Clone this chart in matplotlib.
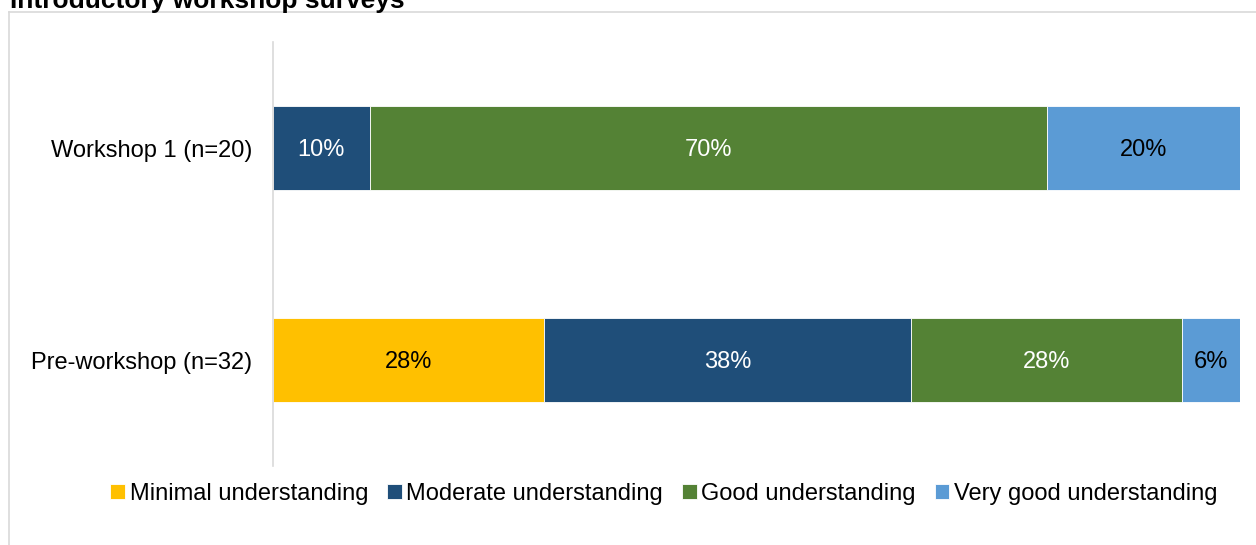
import numpy as np
import matplotlib.pyplot as plt
from matplotlib.lines import Line2D

plt.rcParams['font.family'] = ['Liberation Sans', 'DejaVu Sans']

groups = ["Pre-workshop (n=32)", "Workshop 1 (n=20)"]
levels = ["Minimal understanding", "Moderate understanding",
          "Good understanding", "Very good understanding"]
# share of respondents per level, one list per level (pre-workshop, workshop 1)
minimal = [28, 0]
moderate = [38, 10]
good = [28, 70]
very_good = [6, 20]

colors = ["#FFC000", "#1F4E79", "#548235", "#5B9BD5"]
text_colors = ["black", "white", "white", "black"]

W, H = 1256, 545
fig = plt.figure(figsize=(W / 100, H / 100), dpi=100)
ax = fig.add_axes([273 / W, 1 - 466 / H, (1240 - 273) / W, (466 - 42) / H])

y = np.arange(len(groups))
left = np.zeros(len(groups))
for vals, lab, col, tc in zip([minimal, moderate, good, very_good], levels, colors, text_colors):
    vals = np.array(vals, dtype=float)
    bars = ax.barh(y, vals, left=left, height=0.4, color=col, label=lab,
                   edgecolor="white", linewidth=0.6)
    for b, v in zip(bars, vals):
        if v > 0:
            ax.text(b.get_x() + b.get_width() / 2, b.get_y() + b.get_height() / 2,
                    f"{v:.0f}%", ha="center", va="center_baseline", color=tc, fontsize=17)
    left += vals

ax.set_xlim(0, 100)
ax.set_ylim(-0.5, 1.5)
ax.set_yticks(y)
ax.set_yticklabels(groups, fontsize=17)
ax.tick_params(axis="y", length=0, pad=15)
ax.set_xticks([])
for s in ["top", "right", "bottom"]:
    ax.spines[s].set_visible(False)
ax.spines["left"].set_color("#D9D9D9")
ax.spines["left"].set_linewidth(1.2)

fig.legend(loc="center", bbox_to_anchor=(664 / W, 1 - 494 / H), ncol=4, frameon=False,
           fontsize=17, handlelength=0.62, handleheight=0.62, handletextpad=0.2,
           columnspacing=0.8)

# chart frame (top and left edges)
fig.add_artist(Line2D([9 / W, 1], [1 - 12 / H, 1 - 12 / H], color="#D9D9D9", lw=1.2))
fig.add_artist(Line2D([9 / W, 9 / W], [0, 1 - 12 / H], color="#D9D9D9", lw=1.2))

fig.text(10 / W, 1 - 8 / H, "Introductory workshop surveys", fontsize=19,
         fontweight="bold", ha="left", va="baseline")

fig.savefig("out.png", dpi=100)
